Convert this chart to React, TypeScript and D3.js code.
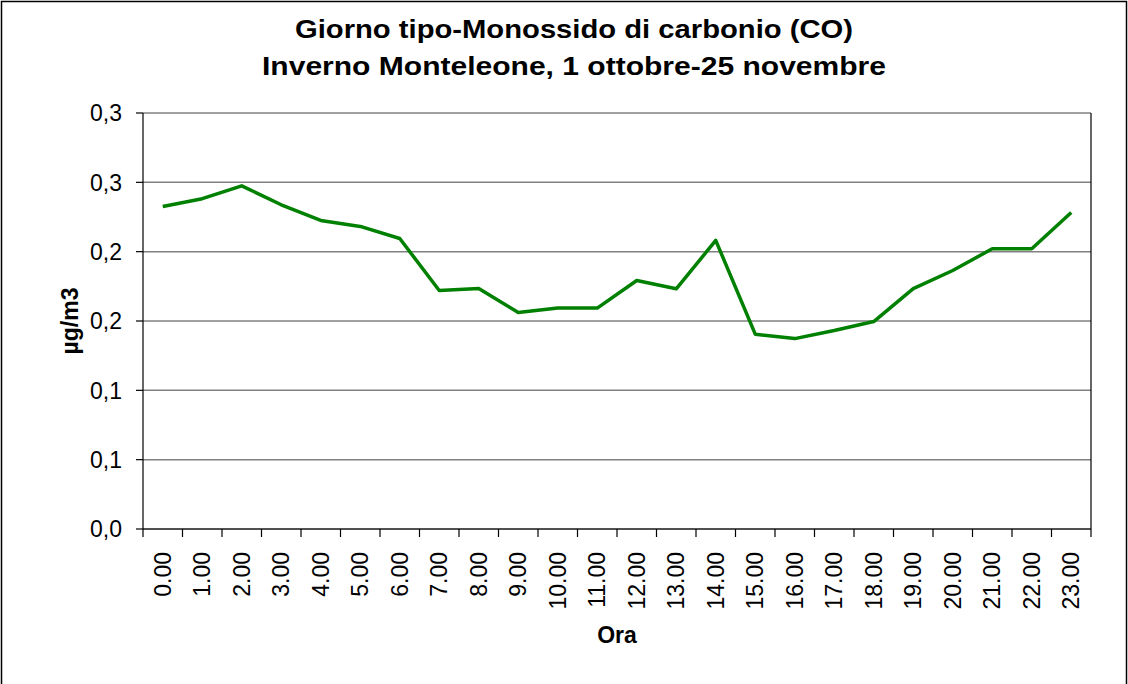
import React from "react";
import { scaleBand, scaleLinear, line } from "d3";

// hourly averages (Excel "giorno tipo")
const hours = [
  "0.00", "1.00", "2.00", "3.00", "4.00", "5.00", "6.00", "7.00",
  "8.00", "9.00", "10.00", "11.00", "12.00", "13.00", "14.00", "15.00",
  "16.00", "17.00", "18.00", "19.00", "20.00", "21.00", "22.00", "23.00",
];
const coValues = [
  0.2326, 0.2382, 0.2475, 0.2338, 0.2225, 0.2182, 0.2095, 0.172,
  0.1734, 0.1561, 0.1593, 0.1593, 0.1792, 0.1732, 0.2081, 0.1405,
  0.1373, 0.1431, 0.1496, 0.1734, 0.1864, 0.2021, 0.2021, 0.2283,
];
// Excel rounded the 0.05 steps to one decimal
const yTicks = [0, 0.05, 0.1, 0.15, 0.2, 0.25, 0.3];
const yTickLabels = ["0,0", "0,1", "0,1", "0,2", "0,2", "0,3", "0,3"];
const titleLines = [
  "Giorno tipo-Monossido di carbonio (CO)",
  "Inverno Monteleone, 1 ottobre-25 novembre",
];

const W = 1128;
const H = 684;
const plot = { left: 143, right: 1091, top: 113, bottom: 529 };
const font = "'Liberation Sans', Arial, Helvetica, sans-serif";

export default function App() {
  const x = scaleBand<string>()
    .domain(hours)
    .range([plot.left, plot.right]);
  const y = scaleLinear()
    .domain([0, 0.3])
    .range([plot.bottom, plot.top]);

  const path = line<number>()
    .x((d, i) => (x(hours[i]) as number) + x.bandwidth() / 2)
    .y((d) => y(d))(coValues);

  // tick boundaries between categories (Excel style)
  const xTickPos = hours.map((h) => x(h) as number).concat([plot.right]);

  return (
    <svg
      width={W}
      height={H}
      style={{ position: "fixed", left: 0, top: 0, background: "#fff" }}
      fontFamily={font}
    >
      <rect x={0} y={0} width={W} height={H} fill="#fff" />
      {/* outer chart frame */}
      <rect x={1.5} y={1.5} width={W - 3} height={H + 20} fill="none" stroke="#000" strokeWidth={1.5} />

      {/* title */}
      {titleLines.map((t, i) => (
        <text
          key={t}
          x={574}
          y={38 + i * 37}
          textAnchor="middle"
          fontSize={25}
          fontWeight="bold"
          textLength={i === 0 ? 558 : 624}
          lengthAdjust="spacingAndGlyphs"
        >
          {t}
        </text>
      ))}

      {/* gridlines */}
      {yTicks.map((t) => (
        <line
          key={"g" + t}
          x1={plot.left}
          x2={plot.right}
          y1={y(t)}
          y2={y(t)}
          stroke="#808080"
          strokeWidth={1.5}
        />
      ))}

      {/* right border of plot area */}
      <line x1={plot.right} x2={plot.right} y1={plot.top} y2={plot.bottom} stroke="#000" strokeWidth={1.2} />

      {/* y axis */}
      <line x1={plot.left} x2={plot.left} y1={plot.top} y2={plot.bottom} stroke="#000" strokeWidth={1.2} />
      {yTicks.map((t, i) => (
        <g key={"y" + t}>
          <line x1={plot.left - 7} x2={plot.left} y1={y(t)} y2={y(t)} stroke="#000" strokeWidth={1.2} />
          <text x={122} y={y(t)} dy="0.36em" textAnchor="end" fontSize={23}>
            {yTickLabels[i]}
          </text>
        </g>
      ))}

      {/* x axis */}
      <line x1={plot.left} x2={plot.right} y1={plot.bottom} y2={plot.bottom} stroke="#000" strokeWidth={1.2} />
      {xTickPos.map((p, i) => (
        <line key={"xt" + i} x1={p} x2={p} y1={plot.bottom} y2={plot.bottom + 8} stroke="#000" strokeWidth={1.2} />
      ))}
      {hours.map((h) => {
        const cx = (x(h) as number) + x.bandwidth() / 2;
        return (
          <text
            key={h}
            transform={`translate(${cx + 8},552) rotate(-90)`}
            textAnchor="end"
            fontSize={23}
          >
            {h}
          </text>
        );
      })}

      {/* axis titles */}
      <text x={(plot.left + plot.right) / 2} y={643} textAnchor="middle" fontSize={23} fontWeight="bold">
        Ora
      </text>
      <text
        transform={`translate(78,${(plot.top + plot.bottom) / 2}) rotate(-90)`}
        textAnchor="middle"
        fontSize={23}
        fontWeight="bold"
      >
        µg/m3
      </text>

      {/* series */}
      <path d={path ?? ""} fill="none" stroke="#008000" strokeWidth={3.5} strokeLinejoin="round" />
    </svg>
  );
}
